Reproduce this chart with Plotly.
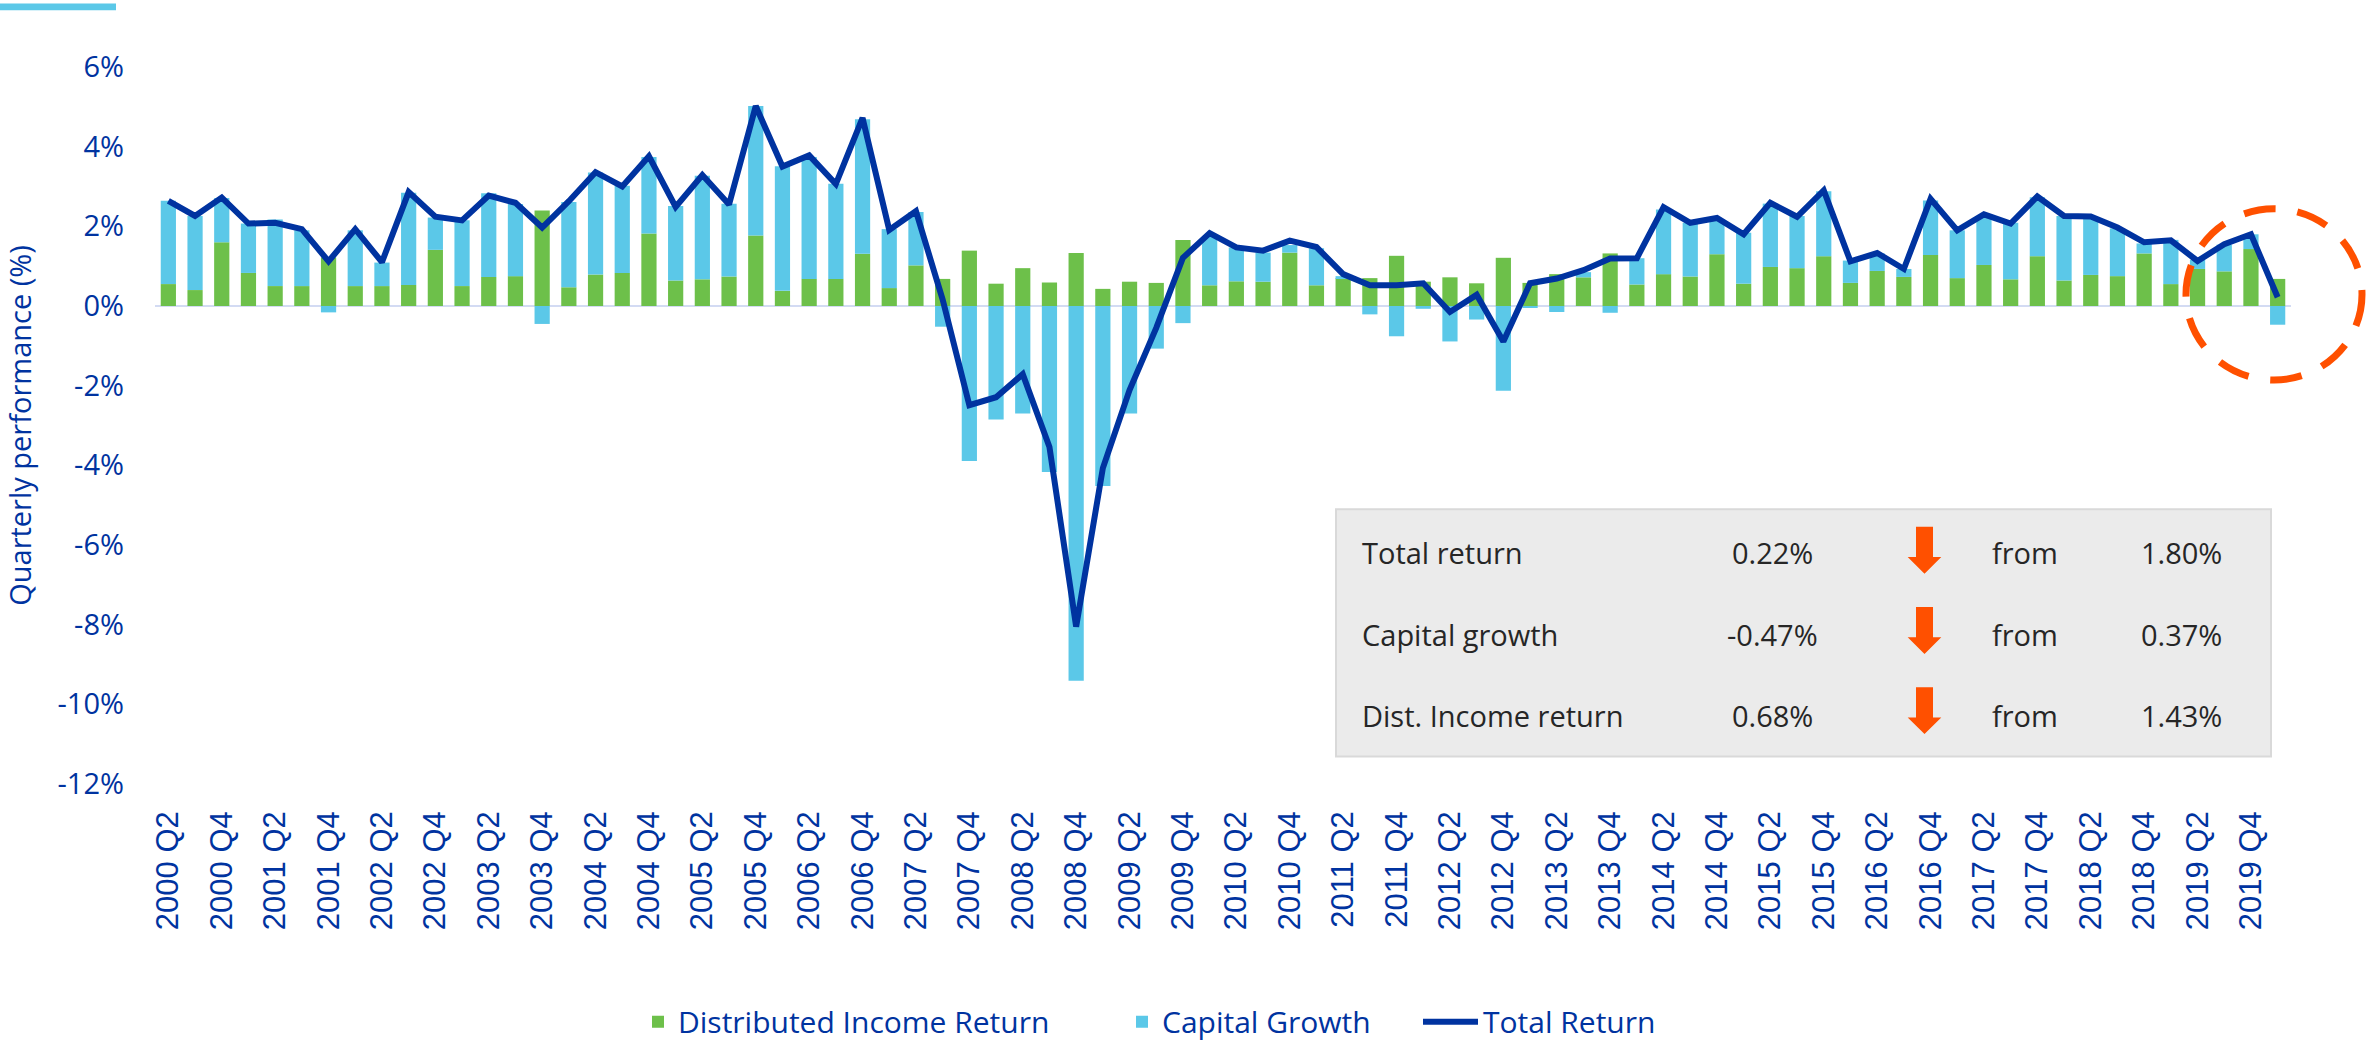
import plotly.graph_objects as go

# ---------------- data ----------------
quarters = [
    "2000 Q2", "2000 Q3", "2000 Q4",
    "2001 Q1", "2001 Q2", "2001 Q3", "2001 Q4",
    "2002 Q1", "2002 Q2", "2002 Q3", "2002 Q4",
    "2003 Q1", "2003 Q2", "2003 Q3", "2003 Q4",
    "2004 Q1", "2004 Q2", "2004 Q3", "2004 Q4",
    "2005 Q1", "2005 Q2", "2005 Q3", "2005 Q4",
    "2006 Q1", "2006 Q2", "2006 Q3", "2006 Q4",
    "2007 Q1", "2007 Q2", "2007 Q3", "2007 Q4",
    "2008 Q1", "2008 Q2", "2008 Q3", "2008 Q4",
    "2009 Q1", "2009 Q2", "2009 Q3", "2009 Q4",
    "2010 Q1", "2010 Q2", "2010 Q3", "2010 Q4",
    "2011 Q1", "2011 Q2", "2011 Q3", "2011 Q4",
    "2012 Q1", "2012 Q2", "2012 Q3", "2012 Q4",
    "2013 Q1", "2013 Q2", "2013 Q3", "2013 Q4",
    "2014 Q1", "2014 Q2", "2014 Q3", "2014 Q4",
    "2015 Q1", "2015 Q2", "2015 Q3", "2015 Q4",
    "2016 Q1", "2016 Q2", "2016 Q3", "2016 Q4",
    "2017 Q1", "2017 Q2", "2017 Q3", "2017 Q4",
    "2018 Q1", "2018 Q2", "2018 Q3", "2018 Q4",
    "2019 Q1", "2019 Q2", "2019 Q3", "2019 Q4",
    "2020 Q1",
]

income_return = [
    0.55, 0.40, 1.60,
    0.83, 0.50, 0.50, 1.22,
    0.50, 0.50, 0.53, 1.41,
    0.50, 0.73, 0.75, 2.40,
    0.47, 0.79, 0.83, 1.82,
    0.64, 0.67, 0.74, 1.77,
    0.38, 0.68, 0.68, 1.31,
    0.45, 1.02, 0.68, 1.39,
    0.56, 0.95, 0.59, 1.33,
    0.43, 0.61, 0.58, 1.66,
    0.52, 0.62, 0.61, 1.34,
    0.52, 0.70, 0.70, 1.26,
    0.61, 0.72, 0.57, 1.21,
    0.58, 0.80, 0.72, 1.32,
    0.54, 0.80, 0.74, 1.30,
    0.56, 0.98, 0.95, 1.25,
    0.58, 0.88, 0.73, 1.28,
    0.70, 1.03, 0.67, 1.25,
    0.64, 0.78, 0.75, 1.32,
    0.55, 0.93, 0.87, 1.43,
    0.68,
]

capital_growth = [
    2.09, 1.86, 1.11,
    1.24, 1.67, 1.40, -0.16,
    1.40, 0.59, 2.31, 0.81,
    1.65, 2.10, 1.81, -0.45,
    2.14, 2.56, 2.19, 1.92,
    1.87, 2.60, 1.83, 3.25,
    3.13, 3.06, 2.39, 3.38,
    1.48, 1.34, -0.52, -3.89,
    -2.85, -2.70, -4.17, -9.41,
    -4.52, -2.70, -1.07, -0.43,
    1.22, 0.85, 0.73, 0.19,
    0.93, 0.05, -0.21, -0.76,
    -0.07, -0.89, -0.34, -2.13,
    -0.05, -0.15, 0.13, -0.17,
    0.66, 1.62, 1.35, 0.87,
    1.28, 1.59, 1.31, 1.63,
    0.56, 0.44, 0.20, 1.37,
    1.20, 1.21, 1.42, 1.48,
    1.62, 1.45, 1.20, 0.25,
    1.11, 0.23, 0.67, 0.37,
    -0.47,
]

total_return = [
    2.64, 2.26, 2.72,
    2.07, 2.09, 1.93, 1.12,
    1.93, 1.10, 2.86, 2.24,
    2.15, 2.77, 2.59, 1.97,
    2.63, 3.36, 3.00, 3.76,
    2.49, 3.29, 2.55, 5.02,
    3.50, 3.78, 3.06, 4.72,
    1.91, 2.38, 0.16, -2.49,
    -2.29, -1.71, -3.54, -8.05,
    -4.07, -2.11, -0.55, 1.21,
    1.83, 1.47, 1.39, 1.64,
    1.48, 0.80, 0.52, 0.52,
    0.57, -0.15, 0.28, -0.89,
    0.57, 0.69, 0.90, 1.19,
    1.20, 2.48, 2.09, 2.21,
    1.80, 2.59, 2.24, 2.90,
    1.12, 1.33, 0.93, 2.69,
    1.90, 2.30, 2.07, 2.75,
    2.26, 2.25, 1.97, 1.60,
    1.65, 1.13, 1.55, 1.80,
    0.22,
]

x_tick_labels = quarters[0::2]
y_tick_values = [6, 4, 2, 0, -2, -4, -6, -8, -10, -12]
y_tick_labels = ["6%", "4%", "2%", "0%", "-2%", "-4%", "-6%", "-8%", "-10%", "-12%"]

box_labels = ["Total return", "Capital growth", "Dist. Income return"]
box_now = ["0.22%", "-0.47%", "0.68%"]
box_from = ["1.80%", "0.37%", "1.43%"]

# ---------------- styling / layout helpers ----------------
W, H = 2374, 1060
ML, MR, MT, MB = 155, 83, 67, 260
PW, PH = W - ML - MR, H - MT - MB

BLUE = "#0033A0"
GREEN = "#6DC04A"
CYAN = "#5BC8E8"
ORANGE = "#FF5000"
FONT = "Open Sans"


def px(x):
    return (x - ML) / PW


def py(y):
    return (H - MB - y) / PH


fig = go.Figure()
fig.add_trace(go.Bar(x=quarters, y=income_return, name="Distributed Income Return",
                     marker=dict(color=GREEN, line=dict(width=0)), legend="legend"))
fig.add_trace(go.Bar(x=quarters, y=capital_growth, name="Capital Growth",
                     marker=dict(color=CYAN, line=dict(width=0)), legend="legend2"))
fig.add_trace(go.Scatter(x=quarters, y=total_return, name="Total Return", mode="lines",
                         line=dict(color=BLUE, width=6), legend="legend3"))

shapes = []
# info box
shapes.append(dict(type="rect", xref="paper", yref="paper",
                   x0=px(1336), x1=px(2271), y0=py(772), y1=py(519),
                   fillcolor="#EBEBEB", line=dict(color="#D9D9D9", width=2), layer="above"))


def arrow_path(cx, top, hs, tip, sw=8.5, hw=16.8):
    pts = [(cx - sw, top), (cx + sw, top), (cx + sw, hs), (cx + hw, hs),
           (cx, tip), (cx - hw, hs), (cx - sw, hs)]
    return "M " + " L ".join(f"{px(a):.5f},{py(b):.5f}" for a, b in pts) + " Z"


for top, hs, tip in [(537, 568, 585), (619, 650, 667), (701, 732, 749)]:
    shapes.append(dict(type="path", xref="paper", yref="paper",
                       path=arrow_path(1924.5, top, hs, tip),
                       fillcolor=ORANGE, line=dict(width=0), layer="above"))

# dashed highlight circle
shapes.append(dict(type="circle", xref="paper", yref="paper",
                   x0=px(2186), x1=px(2362), y0=py(387), y1=py(212),
                   line=dict(color=ORANGE, width=7, dash="32px,22px"), layer="above"))
# accent bar top-left
shapes.append(dict(type="rect", xref="paper", yref="paper",
                   x0=px(0), x1=px(116), y0=py(9), y1=py(2),
                   fillcolor=CYAN, line=dict(width=0), layer="above"))

annotations = []
row_y = [563, 647, 730]
box_font = dict(family=FONT, size=29, color="#262626")
for i in range(3):
    yy = py(row_y[i])
    annotations.append(dict(xref="paper", yref="paper", x=px(1360), y=yy, text=box_labels[i],
                            showarrow=False, xanchor="left", yanchor="middle", font=box_font))
    annotations.append(dict(xref="paper", yref="paper", x=px(1772), y=yy, text=box_now[i],
                            showarrow=False, xanchor="center", yanchor="middle", font=box_font))
    annotations.append(dict(xref="paper", yref="paper", x=px(1990), y=yy, text="from",
                            showarrow=False, xanchor="left", yanchor="middle", font=box_font))
    annotations.append(dict(xref="paper", yref="paper", x=px(2181), y=yy, text=box_from[i],
                            showarrow=False, xanchor="center", yanchor="middle", font=box_font))

legend_font = dict(family=FONT, size=30, color=BLUE)
legend_common = dict(orientation="h", xanchor="left", yanchor="middle", y=py(1043),
                     font=legend_font, bgcolor="rgba(0,0,0,0)", borderwidth=0)

fig.update_layout(
    width=W, height=H,
    margin=dict(l=ML, r=MR, t=MT, b=MB, pad=0),
    paper_bgcolor="white", plot_bgcolor="white",
    barmode="relative", bargap=0.43,
    font=dict(family=FONT, color=BLUE),
    shapes=shapes, annotations=annotations,
    legend=dict(x=px(680 - 42), **legend_common),
    legend2=dict(x=px(1164 - 42), **legend_common),
    legend3=dict(x=px(1485 - 67), itemwidth=55, **legend_common),
    xaxis=dict(type="category", range=[-0.5, len(quarters) - 0.5],
               tickmode="array", tickvals=x_tick_labels, ticktext=x_tick_labels,
               tickangle=-90, ticks="", showgrid=False, showline=False, zeroline=False,
               tickfont=dict(family="Liberation Sans", size=31, color=BLUE),
               ticklabelstandoff=20, automargin=False),
    yaxis=dict(range=[-12, 6], tickmode="array", tickvals=y_tick_values, ticktext=y_tick_labels,
               ticks="", showgrid=False, showline=False,
               zeroline=True, zerolinecolor="#D3DBF3", zerolinewidth=2,
               tickfont=dict(family=FONT, size=29, color=BLUE),
               ticklabelstandoff=30, automargin=False,
               title=dict(text="Quarterly performance (%)", standoff=20,
                          font=dict(family=FONT, size=29, color=BLUE))),
    showlegend=True,
)

fig.write_html("out.html",
               config={"displayModeBar": False},
               post_script="document.body.style.margin='0';document.body.style.overflow='hidden';")
